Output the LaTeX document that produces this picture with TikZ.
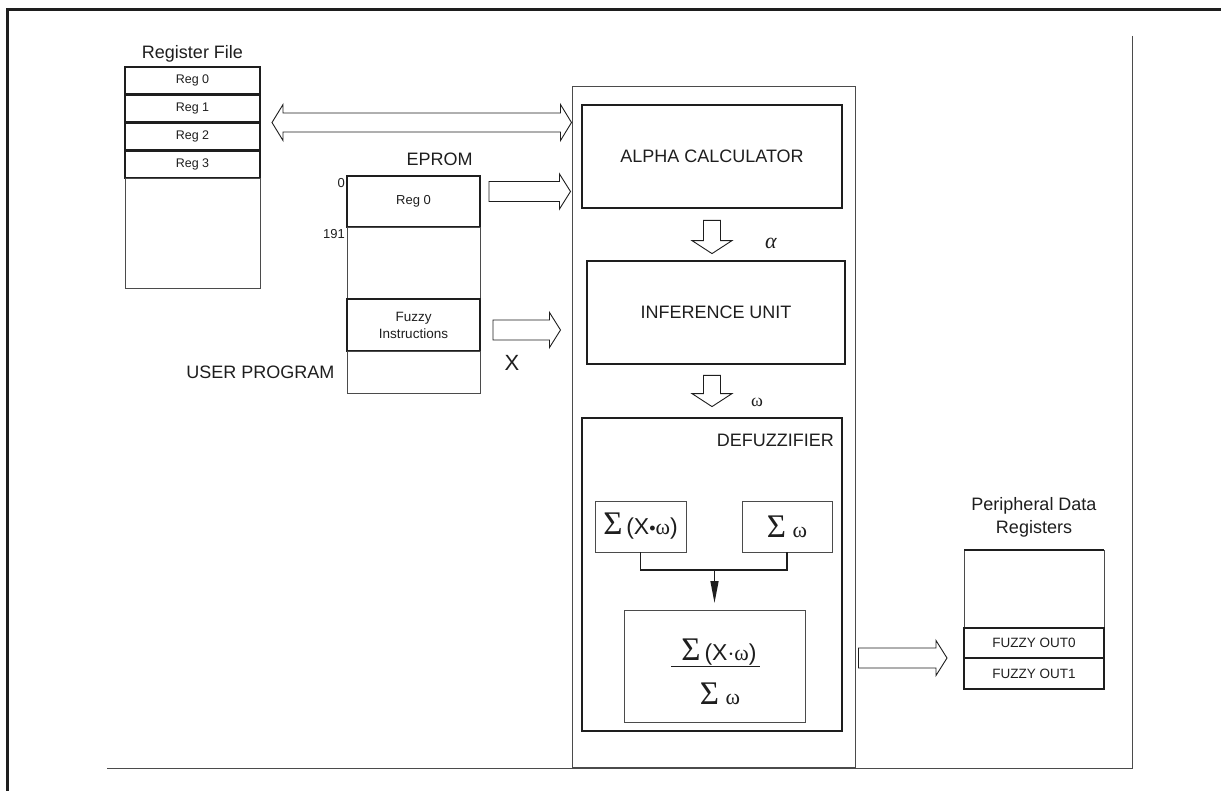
\documentclass[tikz,border=0pt]{standalone}
\usepackage{fontspec}
\setmainfont{Liberation Sans}
\newfontfamily\greekfont{Liberation Serif}
\usepackage{tikz}
\usetikzlibrary{positioning,calc,arrows.meta}
\definecolor{inkdark}{RGB}{30,30,30}
\definecolor{inkgray}{RGB}{75,75,75}
\newcommand{\bigsig}{{\greekfont\fontsize{33}{33}\selectfont Σ}}
\newcommand{\omg}{{\greekfont\fontsize{22}{22}\selectfont ω}}

\tikzset{
  % hollow block arrows, drawn between two points
  hollowright/.style={draw=inkdark,line width=0.9pt,fill=white,to path={
    let \p1=(\tikztostart), \p2=(\tikztotarget) in
    (\x1,\y1+10pt) -- (\x2-11pt,\y1+10pt) -- (\x2-11pt,\y1+17.5pt) -- (\x2,\y1)
    -- (\x2-11pt,\y1-17.5pt) -- (\x2-11pt,\y1-10pt) -- (\x1,\y1-10pt) -- cycle}},
  hollowboth/.style={draw=inkdark,line width=0.9pt,fill=white,to path={
    let \p1=(\tikztostart), \p2=(\tikztotarget) in
    (\x1,\y1) -- (\x1+11pt,\y1+18pt) -- (\x1+11pt,\y1+9.5pt) -- (\x2-11pt,\y1+9.5pt)
    -- (\x2-11pt,\y1+18pt) -- (\x2,\y1) -- (\x2-11pt,\y1-18pt) -- (\x2-11pt,\y1-9.5pt)
    -- (\x1+11pt,\y1-9.5pt) -- (\x1+11pt,\y1-18pt) -- cycle}},
  hollowdown/.style={draw=inkdark,line width=0.9pt,fill=white,to path={
    let \p1=(\tikztostart), \p2=(\tikztotarget) in
    (\x1-8.5pt,\y1) -- (\x1-8.5pt,\y2+13pt) -- (\x1-20pt,\y2+13pt) -- (\x1,\y2)
    -- (\x1+20pt,\y2+13pt) -- (\x1+8.5pt,\y2+13pt) -- (\x1+8.5pt,\y1) -- cycle}}
}

\begin{document}
\begin{tikzpicture}[x=1pt,y=-1pt,
    every node/.style={text=inkdark},
    regbox/.style={draw=inkdark,line width=2.6pt,minimum width=135pt,minimum height=27.75pt,
      inner sep=0pt,outer sep=0pt,font=\fontsize{12.5}{14}\selectfont},
    thinbox/.style={draw=inkgray,line width=0.9pt,inner sep=0pt,outer sep=0pt},
    thickbox/.style={draw=inkdark,line width=2.6pt,inner sep=0pt,outer sep=0pt,align=center},
    unitbox/.style={draw=inkdark,line width=2.8pt,inner sep=0pt,font=\fontsize{18}{22}\selectfont},
    titletext/.style={font=\fontsize{18}{23}\selectfont,align=center},
    smalltext/.style={font=\fontsize{13}{15}\selectfont},
    sumtext/.style={font=\fontsize{23}{25}\selectfont}]

    \useasboundingbox (0,0) rectangle (1221,791);

    % page frame
    \draw[inkdark,line width=3pt] (7,791) -- (7,10) -- (1221,10);
    \draw[inkgray,line width=1pt] (1132,36) -- (1132,768) -- (107,768);

    % register file
    \node[regbox] (reg0) at (192.5,80.9) {Reg 0};
    \node[regbox,below=0pt of reg0] (reg1) {Reg 1};
    \node[regbox,below=0pt of reg1] (reg2) {Reg 2};
    \node[regbox,below=0pt of reg2] (reg3) {Reg 3};
    \node[thinbox,minimum width=135pt,minimum height=110pt,below=0pt of reg3] (regrest) {};
    \node[titletext,above=1pt of reg0] (regtitle) {Register File};

    % EPROM
    \node[thickbox,minimum width=133pt,minimum height=51pt,font=\fontsize{13}{15}\selectfont] (prom0) at (413.5,201.5) {Reg 0};
    \node[thinbox,minimum width=133pt,minimum height=72pt,below=0pt of prom0] (promgap) {};
    \node[thickbox,minimum width=133pt,minimum height=52pt,below=0pt of promgap,
      font=\fontsize{13.5}{17}\selectfont] (fuzzy) {Fuzzy\\Instructions};
    \node[thinbox,minimum width=133pt,minimum height=42pt,below=0pt of fuzzy] (promend) {};
    \node[titletext,anchor=south] (promtitle) at ([xshift=26pt,yshift=7pt]prom0.north) {EPROM};
    \node[smalltext,anchor=north east,inner sep=2pt] (addr0) at (prom0.north west) {0};
    \node[smalltext,anchor=north east,inner sep=2pt] (addr191) at (prom0.south west) {191};
    \node[titletext,left=9pt of promend] (userprog) {USER PROGRAM};

    % fuzzy unit
    \node[draw=inkgray,line width=1pt,minimum width=283pt,minimum height=680pt] (mainunit) at (713.5,427) {};
    \node[unitbox,minimum width=260pt,minimum height=103pt] (alpha) at (712,156.5) {ALPHA CALCULATOR};
    \node[unitbox,minimum width=258pt,minimum height=103pt] (infer) at (716,312.5) {INFERENCE UNIT};
    \node[unitbox,minimum width=260pt,minimum height=313pt] (defuzz) at (712,574.5) {};
    \node[titletext,anchor=north east] (defuzztitle) at ([xshift=-6pt,yshift=-14pt]defuzz.north east) {DEFUZZIFIER};

    \node[thinbox,minimum width=91pt,minimum height=51pt,sumtext] (sumxw) at (640.5,526.5)
      {\bigsig\,(X{\fontsize{18}{18}\selectfont•}\omg)};
    \node[thinbox,minimum width=90pt,minimum height=51pt,sumtext] (sumw) at (787,526.5)
      {\bigsig\ \omg};
    \node[thinbox,minimum width=181pt,minimum height=112pt] (ratio) at (714.5,666) {};
    \node[sumtext,inner sep=1pt] (num) at (719,652) {\bigsig\,(X$\cdot$\omg)};
    \node[sumtext,inner sep=1pt] (den) at (720,694) {\bigsig\ \omg};
    \draw[inkdark,line width=1.4pt] ([xshift=-9pt]num.south west) -- ([xshift=2pt]num.south east);

    \coordinate (join) at ($(sumw.south)+(0,18)$);
    \draw[inkdark,line width=1.5pt] (sumxw.south) |- (join) -- (sumw.south);
    \draw[inkdark,line width=1.5pt,-{Triangle[length=22pt,width=8pt]}] (ratio.north |- join) -- ([yshift=7pt]ratio.north);

    % peripheral data registers
    \node[thinbox,minimum width=140pt,minimum height=78pt] (periph) at (1034,589) {};
    \draw[inkdark,line width=2.6pt] (periph.north west) -- (periph.north east);
    \node[regbox,minimum width=140pt,minimum height=30pt,font=\fontsize{13.5}{15}\selectfont,below=0pt of periph] (out0) {FUZZY OUT0};
    \node[regbox,minimum width=140pt,minimum height=31pt,font=\fontsize{13.5}{15}\selectfont,below=0pt of out0] (out1) {FUZZY OUT1};
    \node[titletext,above=9pt of periph] (periphtitle) {Peripheral Data\\Registers};

    % block arrows
    \draw[hollowboth] ([xshift=12pt]reg1.south east) to (mainunit.west);
    \draw[hollowright] ([xshift=9pt,yshift=10pt]prom0.east) to ([xshift=-1pt]mainunit.west);
    \draw[hollowright] ([xshift=13pt,yshift=-5pt]fuzzy.east) to ([xshift=-11pt]mainunit.west);
    \draw[hollowdown] ([yshift=-11pt]alpha.south) to ([yshift=6pt]infer.north);
    \draw[hollowdown] ($(alpha.south |- infer.south)+(0,10)$) to ([yshift=10pt]defuzz.north);
    \draw[hollowright] ($(mainunit.east |- out0.south)+(3,0)$) to ([xshift=-17pt]out0.south west);

    % signal labels
    \node[font=\fontsize{22}{24}\selectfont] (xlabel) at (512,363) {X};
    \node[font=\greekfont\itshape\fontsize{22}{24}\selectfont] (alphalabel) at (771,243) {α};
    \node[font=\greekfont\fontsize{18}{20}\selectfont] (omegalabel) at (757,402) {ω};

\end{tikzpicture}
\end{document}
